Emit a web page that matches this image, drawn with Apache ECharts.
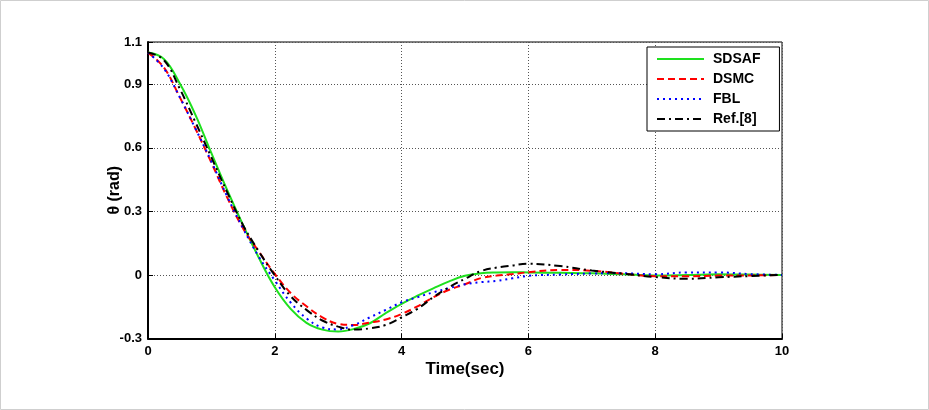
<!DOCTYPE html>
<html>
<head>
<meta charset="utf-8">
<script src="https://cdn.jsdelivr.net/npm/echarts@6/dist/echarts.min.js"></script>
<style>
html,body{margin:0;padding:0;background:#fff;}
#chart{width:929px;height:410px;}
</style>
</head>
<body>
<div id="chart"></div>
<script>
// Time samples (sec)
const time = [0,0.25,0.5,0.75,1.0,1.25,1.5,1.75,2.0,2.25,2.5,2.75,3.0,3.25,3.5,3.75,4.0,4.25,4.5,4.75,5.0,5.25,5.5,5.75,6.0,6.5,7.0,7.5,8.0,8.5,9.0,9.5,10.0];

const sdsaf = [1.05,1.02,0.905,0.755,0.575,0.40,0.235,0.08,-0.058,-0.16,-0.226,-0.258,-0.267,-0.255,-0.228,-0.18,-0.136,-0.098,-0.063,-0.03,-0.004,0.008,0.012,0.013,0.012,0.010,0.008,0.003,-0.002,0.0,0.003,0.002,0.0];

const dsmc = [1.05,0.98,0.84,0.69,0.53,0.365,0.22,0.11,0.005,-0.085,-0.148,-0.2,-0.231,-0.236,-0.225,-0.21,-0.184,-0.148,-0.105,-0.07,-0.044,-0.015,-0.003,0.004,0.013,0.024,0.02,0.006,-0.006,-0.006,-0.003,-0.002,0.0];

const fbl = [1.05,0.975,0.84,0.69,0.535,0.37,0.22,0.085,-0.026,-0.13,-0.205,-0.248,-0.257,-0.236,-0.2,-0.165,-0.129,-0.105,-0.082,-0.062,-0.044,-0.034,-0.028,-0.016,-0.004,0.002,0.007,0.008,0.003,0.012,0.012,0.004,0.0];

const ref8 = [1.05,1.015,0.88,0.72,0.555,0.39,0.235,0.11,-0.002,-0.1,-0.165,-0.215,-0.244,-0.258,-0.252,-0.236,-0.2,-0.16,-0.105,-0.058,-0.018,0.018,0.035,0.045,0.053,0.042,0.021,0.006,-0.01,-0.018,-0.011,-0.005,0.0];

const seriesNames = ['SDSAF','DSMC','FBL','Ref.[8]'];
const xLabel = 'Time(sec)';
const yLabel = 'θ (rad)';

function pairs(vals){ return time.map((t,i)=>[t, vals[i]]); }

const chart = echarts.init(document.getElementById('chart'), null, {renderer:'canvas'});
const font = '"Liberation Sans", Arial, sans-serif';

function line(name, vals, color, type){
  return {
    name: name, type: 'line', data: pairs(vals), smooth: 0.4,
    symbol: 'none', showSymbol: false, z: 3,
    lineStyle: {color: color, width: 2, type: type},
    itemStyle: {color: color}
  };
}

chart.setOption({
  animation: false,
  backgroundColor: '#fff',
  graphic: [{
    type: 'rect', shape: {x: 0.5, y: 0.5, width: 928, height: 409},
    style: {fill: 'none', stroke: '#cfcfcf', lineWidth: 1}, silent: true, z: 0
  }],
  grid: {left: 148, right: 147, top: 42, bottom: 71.5, show: true, borderColor: '#000', borderWidth: 1, backgroundColor: '#fff'},
  legend: {
    orient: 'vertical', left: 647, top: 47,
    data: seriesNames,
    itemWidth: 47, itemHeight: 14, itemGap: 6,
    padding: [5, 19, 5, 9],
    itemStyle: {opacity: 0},
    backgroundColor: '#fff', borderColor: '#000', borderWidth: 1,
    textStyle: {fontFamily: font, fontWeight: 'bold', fontSize: 14, color: '#000', padding: [0,0,0,4]}
  },
  xAxis: {
    type: 'value', min: 0, max: 10, interval: 2,
    name: xLabel, nameLocation: 'middle', nameGap: 22, nameMoveOverlap: false,
    nameTextStyle: {fontFamily: font, fontWeight: 'bold', fontSize: 17, color: '#000'},
    axisLine: {show: true, onZero: false, lineStyle: {color: '#000', width: 2}},
    axisTick: {show: true, inside: true, length: 5, lineStyle: {color: '#000'}},
    axisLabel: {fontFamily: font, fontWeight: 'bold', fontSize: 13, color: '#000', margin: 6},
    splitLine: {show: true, lineStyle: {color: '#555', type: [1,2], width: 1}}
  },
  yAxis: {
    type: 'value', min: -0.3, max: 1.1, interval: 0.3,
    name: yLabel, nameLocation: 'middle', nameGap: 25, nameMoveOverlap: false,
    nameTextStyle: {fontFamily: font, fontWeight: 'bold', fontSize: 16, color: '#000'},
    axisLine: {show: true, onZero: false, lineStyle: {color: '#000', width: 2}},
    axisTick: {show: true, inside: true, length: 5, lineStyle: {color: '#000'}},
    axisLabel: {fontFamily: font, fontWeight: 'bold', fontSize: 13, color: '#000', margin: 6,
      formatter: function(v){ return Math.abs(v) < 1e-9 ? '0' : (Math.round(v*10)/10).toFixed(1); }},
    splitLine: {show: true, lineStyle: {color: '#555', type: [1,2], width: 1}}
  },
  series: [
    line(seriesNames[0], sdsaf, '#1ee01e', 'solid'),
    line(seriesNames[1], dsmc, '#ff0000', [7,4]),
    line(seriesNames[2], fbl, '#0000ff', [2,4]),
    line(seriesNames[3], ref8, '#000000', [8,4,2,4])
  ]
});
</script>
</body>
</html>
